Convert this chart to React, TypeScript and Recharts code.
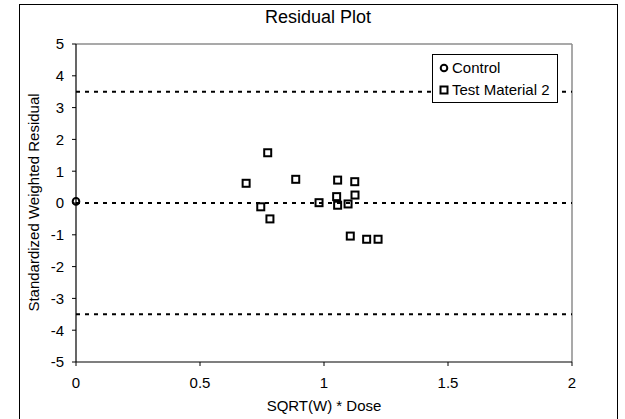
import React from 'react';
import { ScatterChart, Scatter, XAxis, YAxis, ReferenceLine, Legend } from 'recharts';

const controlX = [0];
const controlY = [0.05];
const testX = [0.686, 0.745, 0.773, 0.782, 0.886, 0.98, 1.051, 1.055, 1.055, 1.097, 1.106, 1.124, 1.125, 1.172, 1.218];
const testY = [0.62, -0.12, 1.58, -0.5, 0.745, 0.01, 0.2, 0.72, -0.07, -0.03, -1.04, 0.67, 0.25, -1.14, -1.14];
const xTicks = [0, 0.5, 1, 1.5, 2];
const yTicks = [-5, -4, -3, -2, -1, 0, 1, 2, 3, 4, 5];
const limitLines = [3.5, 0, -3.5];
const seriesNames = ['Control', 'Test Material 2'];
const titleText = 'Residual Plot';
const xLabel = 'SQRT(W) * Dose';
const yLabel = 'Standardized Weighted Residual';

const controlData = controlX.map((x, i) => ({ x, y: controlY[i] }));
const testData = testX.map((x, i) => ({ x, y: testY[i] }));

const FONT = '"Liberation Sans", Arial, sans-serif';

const CircleShape = (props: any) => {
  const { cx, cy } = props;
  return <circle cx={cx} cy={cy} r={3.3} fill="none" stroke="#000" strokeWidth={2} />;
};

const SquareShape = (props: any) => {
  const { cx, cy } = props;
  return <rect x={cx - 3.5} y={cy - 3.5} width={7} height={7} fill="none" stroke="#000" strokeWidth={2} />;
};

const LegendBox = () => (
  <div
    style={{
      width: 126,
      height: 49,
      boxSizing: 'border-box',
      border: '1px solid #000',
      background: '#fff',
      fontFamily: FONT,
      fontSize: 15,
      color: '#000',
      paddingTop: 3,
    }}
  >
    {seriesNames.map((name, i) => (
      <div key={name} style={{ display: 'flex', alignItems: 'center', height: 20, marginTop: i === 0 ? 0 : 2 }}>
        <svg width={16} height={16} style={{ marginLeft: 3 }}>
          {i === 0 ? (
            <circle cx={8} cy={8} r={3.3} fill="none" stroke="#000" strokeWidth={2} />
          ) : (
            <rect x={4.5} y={4.5} width={7} height={7} fill="none" stroke="#000" strokeWidth={2} />
          )}
        </svg>
        <span style={{ marginLeft: 0, lineHeight: '20px' }}>{name}</span>
      </div>
    ))}
  </div>
);

export default function App() {
  return (
    <div style={{ position: 'absolute', left: 0, top: 0, width: 625, height: 419, background: '#fff', overflow: 'hidden' }}>
      <div
        style={{
          position: 'absolute',
          left: 19,
          top: 4,
          width: 599,
          height: 420,
          boxSizing: 'border-box',
          border: '1px solid #000',
        }}
      />
      <ScatterChart width={625} height={419} margin={{ top: 44, right: 53, bottom: 0, left: 0 }}>
        <XAxis
          type="number"
          dataKey="x"
          domain={[0, 2]}
          ticks={xTicks}
          height={57}
          tickSize={4}
          tickMargin={11}
          axisLine={{ stroke: '#000', strokeWidth: 1.2 }}
          tickLine={{ stroke: '#000' }}
          tick={{ fill: '#000', fontSize: 15, fontFamily: FONT }}
          interval={0}
        />
        <YAxis
          type="number"
          dataKey="y"
          domain={[-5, 5]}
          ticks={yTicks}
          width={76}
          tickSize={4}
          tickMargin={8}
          axisLine={{ stroke: '#000', strokeWidth: 1.2 }}
          tickLine={{ stroke: '#000' }}
          tick={{ fill: '#000', fontSize: 15, fontFamily: FONT }}
          interval={0}
        />
        <ReferenceLine y={5} stroke="#8c8c8c" strokeWidth={1.5} />
        <ReferenceLine x={2} stroke="#8c8c8c" strokeWidth={1.5} />
        {limitLines.map((v) => (
          <ReferenceLine key={v} y={v} stroke="#000" strokeWidth={2} strokeDasharray="4 5" />
        ))}
        <Legend
          layout="vertical"
          align="center"
          verticalAlign="middle"
          content={() => <LegendBox />}
          wrapperStyle={{ left: 432, top: 54, width: 126, height: 49 }}
        />
        <Scatter name={seriesNames[0]} data={controlData} shape={CircleShape} isAnimationActive={false} />
        <Scatter name={seriesNames[1]} data={testData} shape={SquareShape} isAnimationActive={false} />
      </ScatterChart>
      <div
        style={{
          position: 'absolute',
          left: 118,
          width: 400,
          top: 8,
          textAlign: 'center',
          fontFamily: FONT,
          fontSize: 18,
          lineHeight: '18px',
          color: '#000',
        }}
      >
        {titleText}
      </div>
      <div
        style={{
          position: 'absolute',
          left: 124,
          width: 400,
          top: 398,
          textAlign: 'center',
          fontFamily: FONT,
          fontSize: 15,
          lineHeight: '15px',
          color: '#000',
        }}
      >
        {xLabel}
      </div>
      <div
        style={{
          position: 'absolute',
          left: 33 - 150,
          top: 203 - 8,
          width: 300,
          textAlign: 'center',
          fontFamily: FONT,
          fontSize: 15,
          lineHeight: '15px',
          color: '#000',
          transform: 'rotate(-90deg)',
          transformOrigin: '150px 7.5px',
          whiteSpace: 'nowrap',
        }}
      >
        {yLabel}
      </div>
    </div>
  );
}
